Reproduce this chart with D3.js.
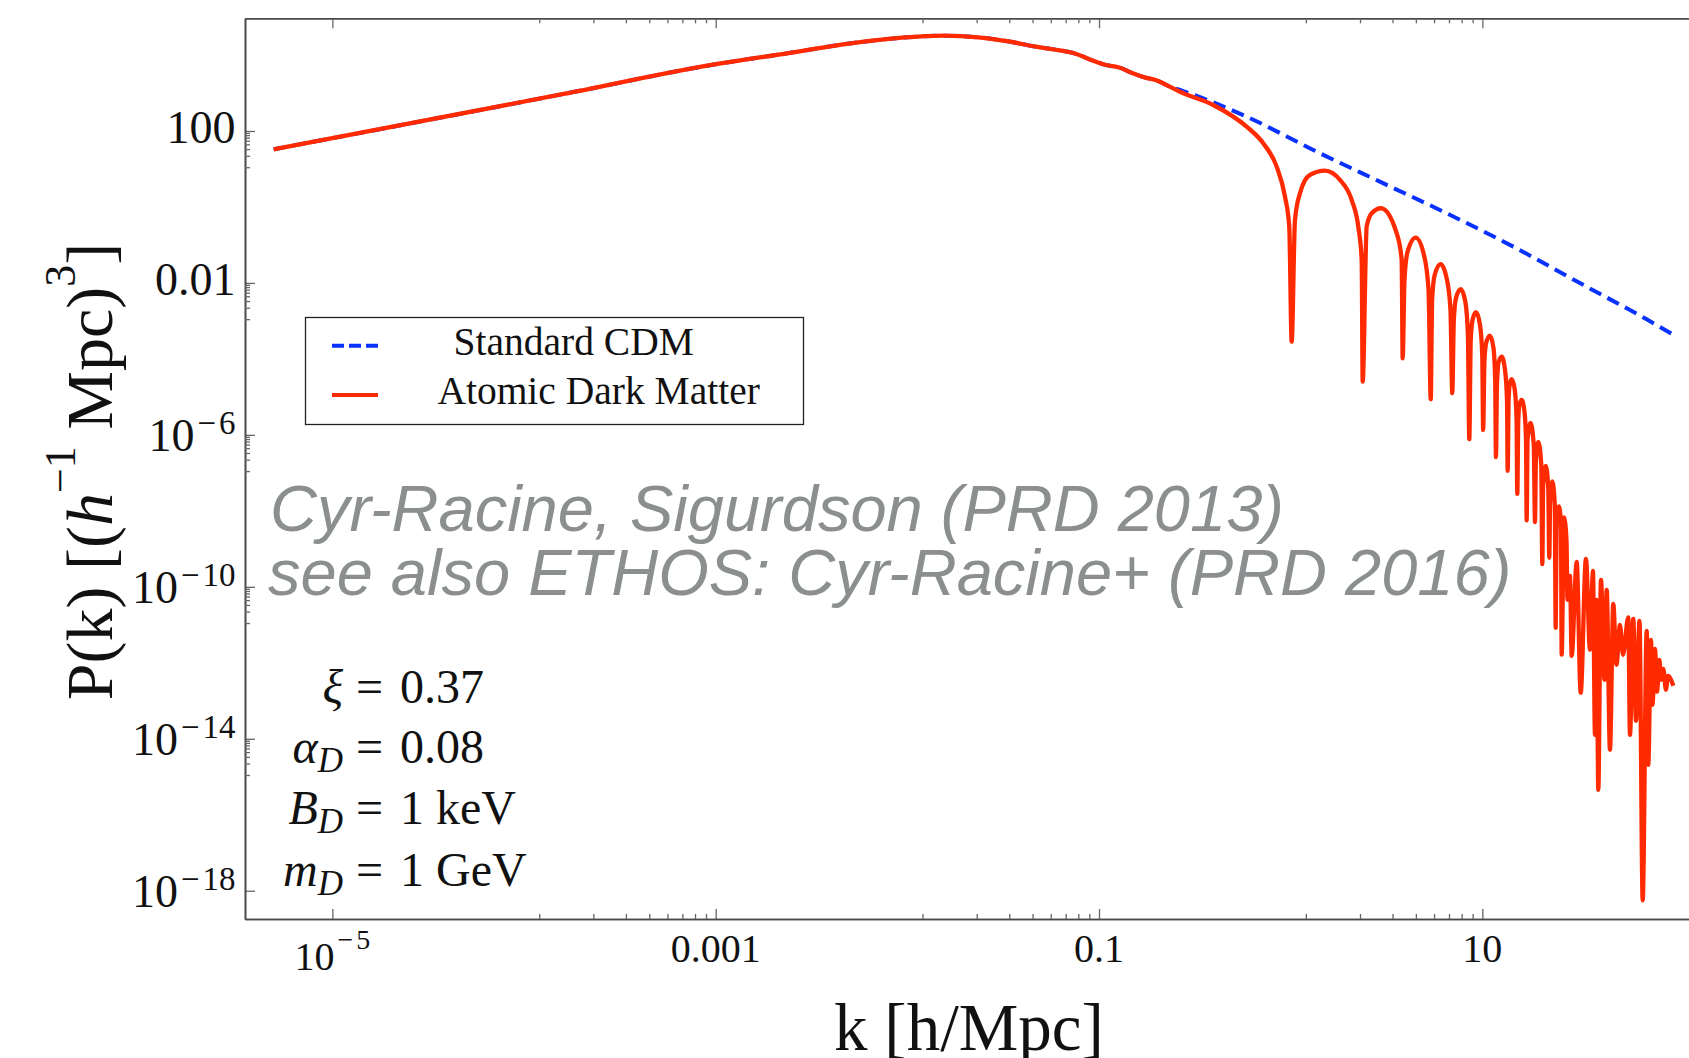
<!DOCTYPE html>
<html>
<head>
<meta charset="utf-8">
<script src="https://cdn.jsdelivr.net/npm/d3@7"></script>
<style>
  html, body { margin: 0; padding: 0; background: #fff; }
  svg { display: block; }
</style>
</head>
<body>
<div id="chart"></div>
<script>
// values: [k (h/Mpc), P(k)]
// common part of both spectra, up to where the ADM curve breaks away
const sharedPk = [
  [4.94e-6, 33.0], [1.61e-4, 942], [1.02e-3, 5.8e3], [2.36e-3, 1.11e4],
  [5.07e-3, 2.03e4], [9.36e-3, 2.85e4], [1.54e-2, 3.22e4], [2.35e-2, 2.92e4],
  [3.44e-2, 2.24e4], [4.68e-2, 1.65e4], [6.11e-2, 1.35e4], [7.41e-2, 1.11e4],
  [9.32e-2, 7.08e3], [0.1087, 5.46e3], [0.1286, 4.63e3], [0.150, 3.3e3],
  [0.1747, 2.53e3], [0.1975, 2.2e3], [0.234, 1.47e3]
];

// standard CDM after the split
const cdmTail = [
  [0.2645, 1.2e3], [0.589, 238], [1.312, 31.6], [2.92, 4.63], [6.51, 0.683],
  [14.5, 0.0902], [32.3, 9.9e-3], [72.0, 1.1e-3], [103, 3.9e-4]
];

// atomic dark matter: cut-off and first acoustic arches
const admArches = [
  [0.2645, 1.08e3], [0.3947, 483], [0.589, 130], [0.719, 47.5], [0.845, 11.5],
  [0.934, 1.87], [0.983, 0.303], [1.012, 2.85e-4], [1.053, 0.455], [1.118, 2.29],
  [1.261, 6.95], [1.51, 9.02], [1.808, 5.13], [2.081, 1.53], [2.253, 0.303],
  [2.347, 0.0403], [2.375, 2.53e-5], [2.492, 0.303], [2.647, 0.683], [2.96, 0.924],
  [3.573, 0.203], [3.794, 0.0403], [3.84, 1.04e-4], [3.925, 0.012], [4.07, 0.0655],
  [4.49, 0.156], [4.96, 0.0546], [5.24, 6.54e-3], [5.38, 8.7e-6], [5.47, 3.57e-3],
  [5.64, 0.0162], [6.06, 0.031], [6.54, 0.012], [6.82, 1.95e-3], [6.97, 1.25e-5],
  [7.10, 1.06e-3], [7.29, 4.03e-3], [7.71, 6.83e-3], [8.17, 2.98e-3], [8.41, 4.28e-4],
  [8.55, 7.71e-7], [8.70, 3.16e-4], [8.89, 1.06e-3], [9.27, 1.69e-3], [9.72, 7.85e-4],
  [9.99, 1.27e-4], [10.1, 1.35e-6], [10.26, 9.41e-5], [10.5, 2.8e-4], [10.96, 4.1e-4],
  [11.43, 1.95e-4], [11.67, 2.8e-5], [11.78, 2.59e-7], [11.92, 2.07e-5], [12.17, 8.34e-5],
  [12.62, 1.15e-4], [13.13, 5.14e-5], [13.45, 8.34e-6], [13.56, 1.13e-7], [13.71, 8.34e-6],
  [13.91, 2.2e-5], [14.23, 2.92e-5], [14.77, 1.53e-5], [15.09, 2.48e-6], [15.22, 2.8e-8]
];

// atomic dark matter: dense oscillating tail
const admTail = [
  [15.4, 2.48e-6], [15.64, 6.55e-6], [16.04, 8.34e-6], [16.6, 4.03e-6], [16.9, 7.38e-7],
  [17.03, 5.62e-9], [17.22, 7.38e-7], [17.83, 2.07e-6], [18.55, 5.46e-7], [18.83, 5.07e-9],
  [19.03, 2.2e-7], [19.59, 6.55e-7], [20.3, 1.62e-7], [20.55, 3.98e-10], [20.77, 4.83e-8],
  [21.41, 1.53e-7], [22.08, 4.03e-8], [22.35, 5.8e-10], [22.59, 1.95e-8], [23.17, 5.94e-8],
  [23.88, 1.44e-8], [24.14, 8.34e-12], [24.4, 4.28e-9], [25.11, 1.3e-8], [25.72, 4.28e-9],
  [25.94, 1.64e-12], [26.67, 6.67e-9], [27.48, 1.73e-9], [27.81, 4.55e-11], [28.66, 1.95e-10],
  [29.25, 1.53e-12], [31.06, 4.55e-10], [32.6, 1.63e-13], [34.73, 5.46e-10], [36.44, 2.2e-12],
  [37.78, 2.64e-10], [38.7, 1.27e-14], [39.46, 4.55e-11], [40.27, 4.55e-16], [41.59, 1.53e-10],
  [43.39, 3.57e-13], [44.56, 8.34e-11], [46.34, 5.14e-15], [48.22, 3.57e-11], [50.11, 8.86e-13],
  [52.25, 1e-11], [54.19, 1.63e-12], [57.73, 1.57e-11], [58.93, 1.27e-14], [61.31, 1.44e-11],
  [63.33, 2.98e-14], [66.06, 1.27e-11], [68.65, 5.56e-19], [72.03, 6.95e-12], [73.42, 2.07e-15],
  [75.85, 4.03e-12], [77.23, 7.85e-14], [79.6, 2.33e-12], [81.5, 1.73e-13], [84.0, 1.2e-12],
  [85.5, 3.57e-13], [87.9, 6.95e-13], [90.8, 1.95e-13], [93.0, 4.55e-13], [99.2, 2.48e-13]
];

const xMajor = [1e-5, 1e-3, 1e-1, 10];
const yMajor = [1e2, 1e-2, 1e-6, 1e-10, 1e-14, 1e-18];
const legendLabels = ["Standard CDM", "Atomic Dark Matter"];
const paramRows = [["ξ", "", "0.37"], ["α", "D", "0.08"], ["B", "D", "1 keV"], ["m", "D", "1 GeV"]];
const citeLines = ["Cyr-Racine, Sigurdson (PRD 2013)", "see also ETHOS: Cyr-Racine+ (PRD 2016)"];

const width = 1689, height = 1058;
const serif = "'Liberation Serif', 'Times New Roman', serif";
const axisColor = "#4a4a4a";
const red = "#ff2a00", blue = "#0a32ff";

const svg = d3.select("#chart").append("svg")
  .attr("width", width)
  .attr("height", height)
  .style("background", "#fff");

const x = d3.scaleLog().domain([3.5e-6, 140]).range([245, 1702]);
const y = d3.scaleLog().domain([1.8e-19, 9.25e4]).range([919, 18.3]);

// minor ticks: 8 evenly spaced values between neighbouring major ticks
function minorTicks(majors) {
  const s = majors.slice().sort((a, b) => a - b);
  const out = [];
  for (let i = 0; i < s.length - 1; i++) {
    for (let n = 1; n <= 8; n++) out.push(s[i] + n * (s[i + 1] - s[i]) / 9);
  }
  return out;
}

svg.append("clipPath").attr("id", "plot-clip")
  .append("rect").attr("x", 245).attr("y", 18.3).attr("width", 1460).attr("height", 900.7);

// ---- curves ----
const line = d3.line()
  .x(d => x(d[0]))
  .y(d => y(d[1]))
  .curve(d3.curveMonotoneX);

const plot = svg.append("g").attr("clip-path", "url(#plot-clip)");

plot.append("path")
  .attr("d", line(sharedPk.concat(cdmTail)))
  .attr("fill", "none")
  .attr("stroke", blue)
  .attr("stroke-width", 4)
  .attr("stroke-dasharray", "13,7");

plot.append("path")
  .attr("d", line(sharedPk.concat(admArches, admTail)))
  .attr("fill", "none")
  .attr("stroke", red)
  .attr("stroke-width", 4.3)
  .attr("stroke-linejoin", "round");

// ---- axes (frame with inward ticks) ----
function styleAxis(g) {
  g.select(".domain").attr("stroke", axisColor).attr("stroke-width", 1.6);
  g.selectAll(".tick line").attr("stroke", "#666").attr("stroke-width", 1.3);
  g.selectAll(".tick text").remove();
}

const xMinor = minorTicks(xMajor);
const yMinor = minorTicks(yMajor);

svg.append("g").attr("transform", "translate(0,919)")
  .call(d3.axisBottom(x).tickValues(xMajor).tickSizeInner(-10).tickSizeOuter(0))
  .call(styleAxis);
svg.append("g").attr("transform", "translate(0,919)")
  .call(d3.axisBottom(x).tickValues(xMinor).tickSizeInner(-5).tickSizeOuter(0))
  .call(styleAxis);
svg.append("g").attr("transform", "translate(0,18.3)")
  .call(d3.axisTop(x).tickValues(xMajor).tickSizeInner(-10).tickSizeOuter(0))
  .call(styleAxis);
svg.append("g").attr("transform", "translate(0,18.3)")
  .call(d3.axisTop(x).tickValues(xMinor).tickSizeInner(-5).tickSizeOuter(0))
  .call(styleAxis);
svg.append("g").attr("transform", "translate(245,0)")
  .call(d3.axisLeft(y).tickValues(yMajor).tickSizeInner(-10).tickSizeOuter(0))
  .call(styleAxis);
svg.append("g").attr("transform", "translate(245,0)")
  .call(d3.axisLeft(y).tickValues(yMinor).tickSizeInner(-5).tickSizeOuter(0))
  .call(styleAxis);

// tick labels: plain decimals for small exponents, 10^n otherwise
function writeTick(text, v, supSize, supShift, gap) {
  const e = Math.round(Math.log10(v));
  if (Math.abs(e) <= 3) {
    text.text(e >= 0 ? String(Math.round(v)) : v.toFixed(-e));
  } else {
    text.append("tspan").text("10");
    text.append("tspan")
      .attr("font-size", supSize)
      .attr("dy", supShift)
      .attr("dx", gap)
      .text("\u2212");
    text.append("tspan")
      .attr("font-size", supSize)
      .attr("dx", gap)
      .text(Math.abs(e));
  }
}

svg.append("g").selectAll("text")
  .data(xMajor)
  .join("text")
  .attr("x", d => x(d))
  .attr("y", d => Math.abs(Math.log10(d)) > 3.5 ? 970 : 961.5)
  .attr("text-anchor", "middle")
  .attr("font-family", serif)
  .attr("font-size", 40)
  .attr("fill", "#111")
  .each(function(d) { writeTick(d3.select(this), d, 28, -21, 3); });

svg.append("g").selectAll("text")
  .data(yMajor)
  .join("text")
  .attr("x", 235.5)
  .attr("y", d => Math.abs(Math.log10(d)) > 3.5 ? y(d) + 16.5 : y(d) + 12)
  .attr("text-anchor", "end")
  .attr("font-family", serif)
  .attr("font-size", 46)
  .attr("fill", "#111")
  .each(function(d) { writeTick(d3.select(this), d, 33, -17.5, 3); });

// axis titles
svg.append("text")
  .attr("x", 969)
  .attr("y", 1050)
  .attr("text-anchor", "middle")
  .attr("font-family", serif)
  .attr("font-size", 67)
  .attr("fill", "#111")
  .text("k [h/Mpc]");

const yTitle = svg.append("text")
  .attr("transform", "translate(112,471.5) rotate(-90)")
  .attr("text-anchor", "middle")
  .attr("font-family", serif)
  .attr("font-size", 66)
  .attr("fill", "#111");
yTitle.append("tspan").text("P(k) [(");
yTitle.append("tspan").attr("font-style", "italic").text("h");
yTitle.append("tspan").attr("font-size", 44).attr("dy", -37).text("\u22121");
yTitle.append("tspan").attr("dy", 37).text(" Mpc)");
yTitle.append("tspan").attr("font-size", 44).attr("dy", -37).text("3");
yTitle.append("tspan").attr("dy", 37).text("]");

// ---- legend ----
const legend = svg.append("g");
legend.append("rect")
  .attr("x", 305.5).attr("y", 317.5)
  .attr("width", 498).attr("height", 107)
  .attr("fill", "#fff")
  .attr("stroke", "#222")
  .attr("stroke-width", 1.3);

const legendRows = [
  { label: legendLabels[0], color: blue, dash: "12,5", ly: 345.7, tx: 453.5, ty: 355 },
  { label: legendLabels[1], color: red, dash: null, ly: 395, tx: 437.4, ty: 404 }
];
legendRows.forEach(r => {
  legend.append("line")
    .attr("x1", 332).attr("x2", 378)
    .attr("y1", r.ly).attr("y2", r.ly)
    .attr("stroke", r.color)
    .attr("stroke-width", 4)
    .attr("stroke-dasharray", r.dash);
  legend.append("text")
    .attr("x", r.tx).attr("y", r.ty)
    .attr("font-family", serif)
    .attr("font-size", 39.5)
    .attr("fill", "#111")
    .text(r.label);
});

// ---- citation text ----
svg.append("g").selectAll("text")
  .data(citeLines)
  .join("text")
  .attr("x", (d, i) => i === 0 ? 270 : 268)
  .attr("y", (d, i) => i === 0 ? 531 : 595.4)
  .attr("font-family", "'Liberation Sans', Arial, sans-serif")
  .attr("font-style", "italic")
  .attr("font-size", 65)
  .attr("fill", "#8b8f8f")
  .text(d => d);

// ---- model parameters ----
const paramBase = [702.8, 763.3, 824.2, 886.2];
paramRows.forEach((r, i) => {
  const lhs = svg.append("text")
    .attr("x", 343).attr("y", paramBase[i])
    .attr("text-anchor", "end")
    .attr("font-family", serif)
    .attr("font-size", 48)
    .attr("fill", "#111");
  lhs.append("tspan").attr("font-style", "italic").text(r[0]);
  if (r[1]) {
    lhs.append("tspan").attr("font-style", "italic").attr("font-size", 35).attr("dy", 8.5).text(r[1]);
  }
  svg.append("text")
    .attr("x", 356).attr("y", paramBase[i])
    .attr("font-family", serif)
    .attr("font-size", 48)
    .attr("fill", "#111")
    .text("=");
  svg.append("text")
    .attr("x", 400).attr("y", paramBase[i])
    .attr("font-family", serif)
    .attr("font-size", 48)
    .attr("fill", "#111")
    .text(r[2]);
});
</script>
</body>
</html>
